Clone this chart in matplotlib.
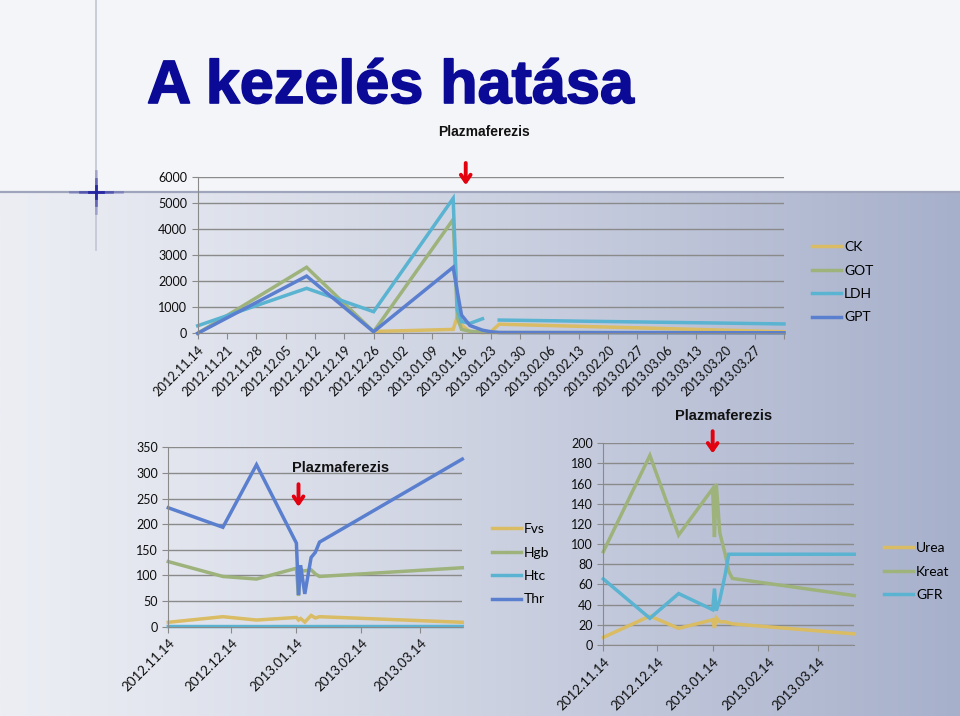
import numpy as np
import pandas as pd
import matplotlib
matplotlib.use('Agg')
import matplotlib.pyplot as plt
import matplotlib.patheffects as pe
from matplotlib.colors import to_rgb

nan = np.nan

# measurement dates, shared by the three panels
dates = pd.to_datetime(['2012-11-14', '2012-12-10', '2012-12-26', '2013-01-14', '2013-01-15',
                        '2013-01-16', '2013-01-18', '2013-01-21', '2013-01-23', '2013-01-25',
                        '2013-04-03'])

# top panel - enzymes
ck = [nan, nan, 70, 150, 640, 320, 60, 25, 60, 350, 60]
got = [0, 2540, 60, 4380, 600, 150, 80, 40, 30, 30, 20]
ldh = [290, 1730, 830, 5190, 900, 450, 380, 560, nan, 510, 360]
gpt = [0, 2200, 60, 2540, 1600, 700, 300, 120, 60, 30, 20]

# bottom left - blood count
fvs = [8.6, 19.5, 13, 18, 13, 16, 9, 22, 17, 19.5, 8.6]
hgb = [127, 98, 93, 114, 60, 110, 109, 111, 103, 98, 115]
htc = [0.36, 0.31, 0.29, 0.33, 0.25, 0.27, 0.26, 0.28, 0.29, 0.30, 0.35]
thr = [232, 194, 316, 163, 62, 120, 64, 135, 145, 165, 327]

# bottom right - kidney
urea = [7.6, 28.7, 16.5, 25, 17, 27, 23, 23, 22, 21, 11]
kreat = [92.5, 188, 109, 155, 107, 160, 111, 90, 73, 66, 49]
gfr = [65.5, 26.5, 51, 35, 56, 34, 45, 70, 90, 90, 90]

weekly = pd.date_range('2012-11-14', '2013-04-03', freq='7D')
weekly_labels = [d.strftime('%Y.%m.%d') for d in weekly[:-1]] + ['']
monthly = pd.to_datetime(['2012-11-14', '2012-12-14', '2013-01-14', '2013-02-14', '2013-03-14'])
monthly_labels = [d.strftime('%Y.%m.%d') for d in monthly]

YELLOW = '#d9bc63'
GREEN = '#9eb27c'
CYAN = '#5ab3d1'
BLUE = '#5b7fcf'
GRID = '#8a8a8a'
TXT = 'Lato'

W, H = 960, 716
fig = plt.figure(figsize=(9.6, 7.16), dpi=100)


def px_box(left, top, right, bottom):
    return [left / W, 1 - bottom / H, (right - left) / W, (bottom - top) / H]


# slide background
bg = fig.add_axes([0, 0, 1, 1], zorder=-10)
bg.set_xlim(0, W)
bg.set_ylim(H, 0)
bg.axis('off')
ramp = np.linspace(0, 1, 400) ** 1.15
c0 = np.array(to_rgb('#eceef4'))
c1 = np.array(to_rgb('#a7b0cb'))
row = c0 + (c1 - c0) * ramp[:, None]
bg.imshow(np.repeat(row[None, :, :], 2, axis=0), extent=(0, W, H, 192), aspect='auto',
          interpolation='bilinear')
bg.add_patch(plt.Rectangle((0, 0), W, 192, color='#f4f5f9', lw=0))
bg.plot([0, W], [192, 192], color='#9ea5bd', lw=1.6)
bg.plot([96, 96], [0, 250], color='#c2c5d2', lw=1.2)
for half, a in [(26, 0.25), (16, 0.45), (7, 0.85)]:
    bg.plot([96 - half, 96 + half], [192, 192], color='#2020a0', lw=2, alpha=a)
    bg.plot([96, 96], [192 - half * 0.8, 192 + half * 0.8], color='#2020a0', lw=2, alpha=a)

fig.text(147 / W, 1 - 103 / H, 'A kezelés hatása', family='Liberation Sans', weight='bold',
         size=44, color='#0a0a96', ha='left', va='baseline',
         path_effects=[pe.withStroke(linewidth=1.2, foreground='#0a0a96')])


def style(ax, ymax, ystep, ticks, labels, fs):
    ax.set_facecolor('none')
    ax.set_xlim(dates[0], dates[-1])
    ax.set_ylim(0, ymax)
    ax.set_yticks(np.arange(0, ymax + 1, ystep))
    ax.grid(axis='y', color=GRID, lw=1)
    ax.grid(axis='x', visible=False)
    ax.set_axisbelow(True)
    for s in ['top', 'right']:
        ax.spines[s].set_visible(False)
    for s in ['left', 'bottom']:
        ax.spines[s].set_color(GRID)
    ax.tick_params(colors=GRID, length=4, labelcolor='#0d0d0d')
    ax.set_xticks(ticks)
    ax.set_xticklabels(labels, rotation=45, ha='right', rotation_mode='anchor',
                       fontsize=fs, family=TXT)
    for t in ax.get_yticklabels():
        t.set_family(TXT)
        t.set_fontsize(9)


def draw(ax, series):
    lines = []
    for vals, col, name in series:
        ln, = ax.plot(dates, vals, color=col, lw=2.5, label=name, clip_on=False,
                      solid_joinstyle='miter')
        lines.append(ln)
    return lines


def arrow(ax, date, y0, y1):
    ax.annotate('', xy=(pd.Timestamp(date), y1), xytext=(pd.Timestamp(date), y0),
                arrowprops=dict(arrowstyle='->,head_width=0.35,head_length=0.5',
                                color='#e3000f', lw=2.8, shrinkA=0, shrinkB=0),
                annotation_clip=False)


def legend(lines, x, y_first, fs):
    fig.legend(handles=lines, loc='upper left', bbox_to_anchor=(x / W, 1 - (y_first - 6) / H),
               frameon=False, handlelength=2.1, handletextpad=0.2, labelspacing=0.82,
               borderpad=0, borderaxespad=0, prop={'family': TXT, 'size': fs})


# top chart
ax1 = fig.add_axes(px_box(197.7, 177.3, 784, 333.3))
style(ax1, 6000, 1000, weekly, weekly_labels, 9.2)
l1 = draw(ax1, [(ck, YELLOW, 'CK'), (got, GREEN, 'GOT'), (ldh, CYAN, 'LDH'), (gpt, BLUE, 'GPT')])
arrow(ax1, '2013-01-17', 6550, 5700)
legend(l1, 812, 247.3, 10)
fig.text(484.5 / W, 1 - 131.5 / H, 'Plazmaferezis', family='Liberation Sans', weight='bold',
         size=10, ha='center', va='center', color='#111111')

# bottom left chart
ax2 = fig.add_axes(px_box(168.3, 447.3, 462.3, 626.7))
style(ax2, 350, 50, monthly, monthly_labels, 9.6)
l2 = draw(ax2, [(fvs, YELLOW, 'Fvs'), (hgb, GREEN, 'Hgb'), (htc, CYAN, 'Htc'), (thr, BLUE, 'Thr')])
arrow(ax2, '2013-01-15', 278, 234)
legend(l2, 491.7, 529.3, 10)
fig.text(341 / W, 1 - 468 / H, 'Plazmaferezis', family='Liberation Sans', weight='bold',
         size=10.5, ha='center', va='center', color='#111111')

# bottom right chart
ax3 = fig.add_axes(px_box(603.3, 443.3, 854.3, 645))
style(ax3, 200, 20, monthly, monthly_labels, 9.6)
l3 = draw(ax3, [(urea, YELLOW, 'Urea'), (kreat, GREEN, 'Kreat'), (gfr, CYAN, 'GFR')])
arrow(ax3, '2013-01-14', 212, 190)
legend(l3, 884, 548.3, 10)
fig.text(724 / W, 1 - 416 / H, 'Plazmaferezis', family='Liberation Sans', weight='bold',
         size=10.5, ha='center', va='center', color='#111111')

fig.savefig('out.png', dpi=100)
